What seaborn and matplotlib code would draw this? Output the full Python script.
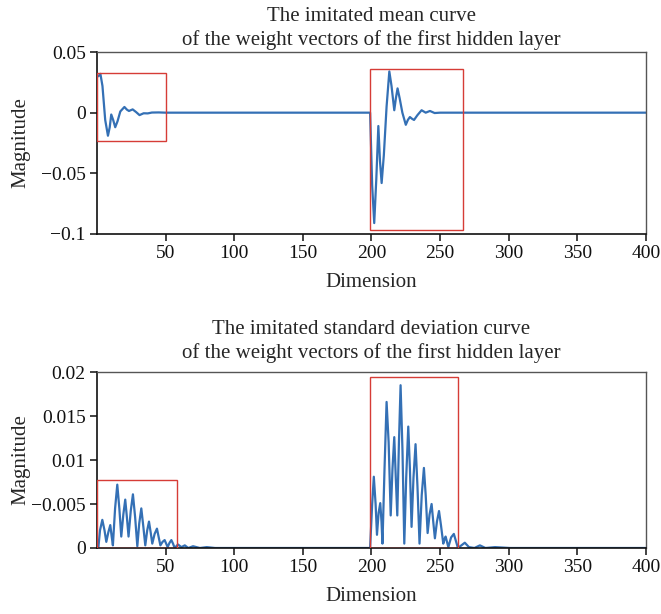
import numpy as np
import pandas as pd
import matplotlib
matplotlib.use("Agg")
import matplotlib.pyplot as plt
from matplotlib.patches import Rectangle
import seaborn as sns

# ---- data ----
mean_dim = [1, 2.5, 4, 6, 8, 9.3, 10.4, 11.8, 13.3, 15, 17, 20, 21.8, 23.3, 26, 28.5, 31, 34, 37, 40, 45, 50,
            199, 200.5, 202, 203.5, 205, 206.2, 207.4, 209, 211, 213, 214.6, 216.6, 217.8, 219, 220.5, 222.5,
            225, 226.5, 228, 229.5, 231, 233.5, 236.5, 239.5, 242.6, 246, 250, 400]
mean_val = [0.030, 0.032, 0.022, -0.006, -0.019, -0.012, -0.0015, -0.006, -0.012, -0.007, 0.001, 0.0047,
            0.0025, 0.0014, 0.0027, 0.0005, -0.002, -0.0005, -0.0006, 0.0001, 0.0002, 0.0,
            0.0, -0.060, -0.091, -0.055, -0.011, -0.040, -0.058, -0.035, 0.005, 0.034, 0.022, 0.002, 0.012,
            0.020, 0.012, 0.0, -0.010, -0.006, -0.0036, -0.005, -0.006, -0.002, 0.002, 0.0, 0.0014, -0.0003,
            0.0, 0.0]

std_dim = [1, 2.2, 3.9, 5.5, 6.8, 8.3, 9.7, 10.8, 11.6, 13.2, 14.8, 16.3, 17.7, 19.2, 20.6, 21.8, 23, 24.6,
           26.2, 27.8, 29.4, 30.8, 32.3, 33.8, 35.2, 36.6, 37.9, 39.1, 40.3, 42, 43.7, 45, 46.2, 47.8, 49.3,
           50.4, 51.5, 52.9, 54.2, 55.4, 56.6, 59, 61.5, 64, 66.5, 70, 75, 80, 86, 92, 100,
           199, 200.5, 201.7, 203, 204, 205.2, 206.4, 207.3, 208, 209.5, 211, 212.5, 214, 215.3, 216.6,
           217.7, 218.8, 220, 221.2, 222.6, 223.9, 225.3, 226.8, 228, 229.2, 230.6, 232.1, 233.5, 235,
           236.6, 238.2, 239.5, 240.9, 242.3, 243.8, 245, 246.2, 247.7, 249.2, 250.7, 252.3, 253.2, 254,
           255, 256, 258, 260, 261.5, 263, 265.5, 268, 271, 275, 279, 283, 290, 301, 310, 400]
std_val = [0.0, 0.002, 0.0032, 0.002, 0.0007, 0.0018, 0.0026, 0.0012, 0.0003, 0.0045, 0.0072, 0.0045,
           0.0013, 0.0038, 0.0055, 0.0035, 0.0013, 0.0042, 0.0061, 0.0035, 0.0002, 0.0028, 0.0045, 0.0024,
           0.0003, 0.002, 0.003, 0.0018, 0.0005, 0.0016, 0.0022, 0.0012, 0.0003, 0.0007, 0.0009, 0.0005,
           0.0001, 0.0006, 0.0009, 0.0005, 0.0, 0.0004, 0.0001, 0.0003, 0.0, 0.0002, 0.0, 0.0001, 0.0, 0.0, 0.0,
           0.0, 0.005, 0.0081, 0.005, 0.0015, 0.004, 0.0051, 0.003, 0.0005, 0.009, 0.0166, 0.012, 0.0037,
           0.009, 0.0126, 0.008, 0.0037, 0.012, 0.0185, 0.011, 0.0005, 0.008, 0.0138, 0.009, 0.0024, 0.008,
           0.0118, 0.007, 0.0005, 0.006, 0.0091, 0.006, 0.0017, 0.0038, 0.005, 0.003, 0.0011, 0.003, 0.0042,
           0.0025, 0.0005, 0.001, 0.0013, 0.0007, 0.0001, 0.0012, 0.0016, 0.0008, 0.0, 0.0003, 0.0006, 0.0001,
           0.0, 0.0003, 0.0, 0.0001, 0.0, 0.0, 0.0]

x_ticks = [50, 100, 150, 200, 250, 300, 350, 400]
mean_yticks = [-0.1, -0.05, 0, 0.05]
mean_ylabels = ["\u22120.1", "\u22120.05", "0", "0.05"]
std_yticks = [0, 0.005, 0.01, 0.015, 0.02]
std_ylabels = ["0", "\u22120.005", "0.01", "0.015", "0.02"]

# highlight boxes (x0, x1, y0, y1) in data units
mean_boxes = [(0, 50, -0.023, 0.033), (199, 266.5, -0.0965, 0.036)]
std_boxes = [(0, 58, 0.0, 0.0077), (199, 263, 0.0, 0.0194)]

titles = ["The imitated mean curve\nof the weight vectors of the first hidden layer",
          "The imitated standard deviation curve\nof the weight vectors of the first hidden layer"]

# ---- plotting ----
sns.set_style("ticks")
plt.rcParams["font.family"] = ["Liberation Serif", "DejaVu Serif"]

fig = plt.figure(figsize=(6.61, 6.14), dpi=100)
ax1 = fig.add_axes([0.1467, 0.6189, 0.8306, 0.2964])
ax2 = fig.add_axes([0.1467, 0.1075, 0.8306, 0.2866])

line_color = "#3470b5"
box_color = "#d63c36"

df_mean = pd.DataFrame({"Dimension": mean_dim, "Magnitude": mean_val})
df_std = pd.DataFrame({"Dimension": std_dim, "Magnitude": std_val})

panels = [
    (ax1, df_mean, (-0.1, 0.05), mean_yticks, mean_ylabels, mean_boxes, titles[0], 5),
    (ax2, df_std, (0, 0.02), std_yticks, std_ylabels, std_boxes, titles[1], 10),
]

for ax, df, ylim, yt, yl, boxes, title, tpad in panels:
    sns.lineplot(data=df, x="Dimension", y="Magnitude", ax=ax, color=line_color,
                 linewidth=1.6, sort=False, estimator=None)
    for (x0, x1, y0, y1) in boxes:
        ax.add_patch(Rectangle((x0, y0), x1 - x0, y1 - y0, fill=False,
                               edgecolor=box_color, linewidth=1.0, zorder=3))
    ax.set_xlim(0, 400)
    ax.set_ylim(*ylim)
    ax.set_xticks(x_ticks)
    ax.set_yticks(yt)
    ax.set_yticklabels(yl)
    ax.tick_params(axis="both", direction="out", length=5, width=1.2, labelsize=14,
                   colors="#222222", labelcolor="#111111", top=False, right=False, pad=3)
    ax.set_xlabel("Dimension", fontsize=15, labelpad=8)
    ax.set_ylabel("Magnitude", fontsize=15)
    ax.yaxis.set_label_coords(-0.121, 0.5)
    ax.set_title(title, fontsize=15, linespacing=1.3, pad=tpad)
    for s in ["left", "bottom"]:
        ax.spines[s].set_color("#111111")
        ax.spines[s].set_linewidth(1.2)
    for s in ["top", "right"]:
        ax.spines[s].set_visible(True)
        ax.spines[s].set_color("#555555")
        ax.spines[s].set_linewidth(1.0)

fig.savefig("out.png", dpi=100)
